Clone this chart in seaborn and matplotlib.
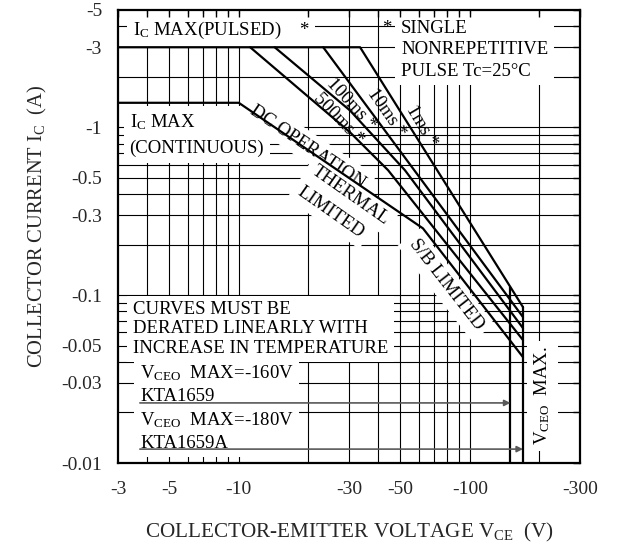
import numpy as np
import pandas as pd
import matplotlib
matplotlib.use('Agg')
import matplotlib.pyplot as plt
import seaborn as sns

# Safe operating area (magnitudes; the axes are labelled negative like the datasheet)
ic_pulsed = 3.0
ic_cont = 1.4

dc_v = [3, 10, 62.7, 170]
dc_i = [ic_cont, ic_cont, 0.25, 0.0427]
p500_v = [11.2, 30.3, 44.3, 170]
p500_i = [ic_pulsed, 0.934, 0.555, 0.054]
p100_v = [14.3, 30.3, 52.4, 170]
p100_i = [ic_pulsed, 1.26, 0.555, 0.0636]
p10_v = [23.2, 170]
p10_i = [ic_pulsed, 0.074]
p1_v = [3, 33.5, 170]
p1_i = [ic_pulsed, ic_pulsed, 0.0848]

vceo_v = [150, 170]          # KTA1659, KTA1659A
vceo_top = [0.112, 0.0848]
arrow_i = [0.0228, 0.0121]
arrow_from = 3.73

x_ticks = [3, 5, 10, 30, 50, 100, 300]
x_labels = ['-3', '-5', '-10', '-30', '-50', '-100', '-300']
y_ticks = [0.01, 0.03, 0.05, 0.1, 0.3, 0.5, 1, 3, 5]
y_labels = ['-0.01', '-0.03', '-0.05', '-0.1', '-0.3', '-0.5', '-1', '-3', '-5']
x_grid = [4, 5, 6, 7, 8, 9, 10, 20, 30, 40, 50, 60, 70, 80, 90, 100, 200]
y_grid = [0.02, 0.03, 0.04, 0.05, 0.06, 0.07, 0.08, 0.09, 0.1,
          0.2, 0.3, 0.4, 0.5, 0.6, 0.7, 0.8, 0.9, 1, 2, 3, 4]

# long-form table for seaborn
curves = {'dc': (dc_v, dc_i), '500ms': (p500_v, p500_i), '100ms': (p100_v, p100_i),
          '10ms': (p10_v, p10_i), '1ms': (p1_v, p1_i)}
for k, (v, top) in enumerate(zip(vceo_v, vceo_top)):
    curves['vceo%d' % k] = ([v, v], [top, 0.01])
rows = []
for name, (vs, cs) in curves.items():
    for v, c in zip(vs, cs):
        rows.append({'curve': name, 'V': v, 'I': c})
df = pd.DataFrame(rows)

sns.set_theme(style='white')
plt.rcParams['font.family'] = ['Liberation Serif', 'DejaVu Serif']
plt.rcParams['mathtext.fontset'] = 'custom'
plt.rcParams['mathtext.rm'] = 'Liberation Serif'
plt.rcParams['mathtext.it'] = 'Liberation Serif:italic'
plt.rcParams['mathtext.bf'] = 'Liberation Serif:bold'

fig = plt.figure(figsize=(6.17, 5.54), dpi=100)
ax = fig.add_axes([118 / 617, 91 / 554, 462 / 617, 453 / 554])

sns.lineplot(data=df, x='V', y='I', units='curve', estimator=None, sort=False,
             color='black', lw=1.6, ax=ax, zorder=3)
ax.set_xscale('log')
ax.set_yscale('log')
ax.set_xlim(3, 300)
ax.set_ylim(0.01, 5)

for v in x_grid:
    ax.axvline(v, color='black', lw=0.8, zorder=1)
for c in y_grid:
    ax.axhline(c, color='black', lw=0.8, zorder=1)

ax.set_axisbelow(False)
ax.set_xticks(x_ticks)
ax.set_xticklabels(x_labels)
ax.set_yticks(y_ticks)
ax.set_yticklabels(y_labels)
ax.set_xticks([v for v in x_grid if v not in x_ticks], minor=True)
ax.set_yticks([c for c in y_grid if c not in y_ticks], minor=True)
ax.xaxis.set_minor_formatter(matplotlib.ticker.NullFormatter())
ax.yaxis.set_minor_formatter(matplotlib.ticker.NullFormatter())
ax.tick_params(which='both', direction='in', top=True, right=True, length=5,
               width=1, color='black', labelsize=14)
ax.tick_params(axis='x', pad=13)
ax.tick_params(axis='y', pad=11.5)
for s in ax.spines.values():
    s.set_color('black')
    s.set_linewidth(1.6)

ax.set_xlabel(r"COLLECTOR-EMITTER VOLTAGE $\mathrm{V_{CE}}$  (V)", fontsize=15.2)
ax.set_ylabel(r"COLLECTOR CURRENT $\mathrm{I_C}$  (A)", fontsize=14.8)
ax.xaxis.set_label_coords(0.501, -0.129)
ax.yaxis.set_label_coords(-0.149, 0.523)

box = dict(boxstyle='square,pad=0.3', fc='white', ec='none')
t = dict(fontsize=13.5, transform=ax.transAxes, zorder=2, color='black')

ax.text(0.0325, 0.945, r"$\mathrm{I_C}$ MAX(PULSED)    *", ha='left', va='baseline', bbox=box, **t)
ax.text(0.582, 0.949, "*", ha='center', va='baseline', **t)
ax.text(0.6126, 0.912, "SINGLE\nNONREPETITIVE\nPULSE Tc=25°C", ha='left', va='center',
        linespacing=1.34, bbox=box, **t)
ax.text(0.025, 0.724, "$\\mathrm{I_C}$ MAX\n(CONTINUOUS)", ha='left', va='center',
        linespacing=1.57, bbox=box, **t)
ax.text(0.0325, 0.296, "CURVES MUST BE\nDERATED LINEARLY WITH\nINCREASE IN TEMPERATURE",
        ha='left', va='center', linespacing=1.17, bbox=box, **t)
ax.text(0.0476, 0.220, "$\\mathrm{V_{CEO}}$  MAX=-160V\nKTA1659\n$\\mathrm{V_{CEO}}$  MAX=-180V\nKTA1659A",
        ha='left', va='top', linespacing=1.36, bbox=box, **t)

rot = dict(ha='center', va='center', rotation_mode='anchor')
ax.text(0.411, 0.698, "DC OPERATION", rotation=-34, bbox=box, **rot, **t)
ax.text(0.502, 0.592, "THERMAL", rotation=-35, bbox=box, **rot, **t)
ax.text(0.461, 0.554, "LIMITED", rotation=-35, bbox=box, **rot, **t)
ax.text(0.478, 0.759, "500ms *", rotation=-46, **rot, **t)
ax.text(0.504, 0.792, "100ms *", rotation=-47, **rot, **t)
ax.text(0.580, 0.773, "10ms *", rotation=-55, **rot, **t)
ax.text(0.656, 0.744, "1ms *", rotation=-59, **rot, **t)
ax.text(0.71, 0.393, "S/B LIMITED", rotation=-52, bbox=box, **rot, **t)
ax.text(0.918, 0.148, "$\\mathrm{V_{CEO}}$  MAX.", rotation=90, bbox=box, **rot, **t)

for c, v in zip(arrow_i, vceo_v):
    ax.annotate("", xy=(v, c), xytext=(arrow_from, c), zorder=3,
                arrowprops=dict(arrowstyle='-|>', color='0.35', lw=1.2,
                                mutation_scale=9, shrinkA=0, shrinkB=0))

fig.savefig('out.png', dpi=100)
